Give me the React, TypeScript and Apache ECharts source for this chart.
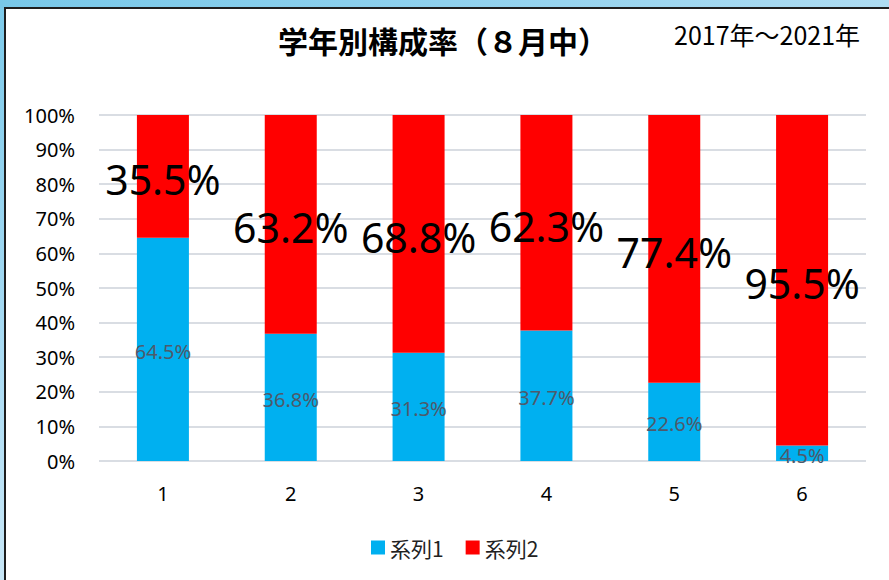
import React, { useEffect, useRef } from "react";
import * as echarts from "echarts";

const categories = ["1", "2", "3", "4", "5", "6"];
const series1Values = [64.5, 36.8, 31.3, 37.7, 22.6, 4.5];
const series2Values = [35.5, 63.2, 68.8, 62.3, 77.4, 95.5];
const seriesNames = ["系列1", "系列2"];
const titleText = "学年別構成率（８月中）";
const subtitleText = "2017年～2021年";

export default function App() {
  const ref = useRef<HTMLDivElement>(null);

  useEffect(() => {
    document.body.style.margin = "0";
    if (!ref.current) return;
    const chart = echarts.init(ref.current, null, { renderer: "svg" });
    const fmt = (p: any) => Number(p.value).toFixed(1) + "%";
    chart.setOption({
      animation: false,
      textStyle: { fontFamily: "'Noto Sans', 'Noto Sans CJK JP', sans-serif" },
      title: {
        text: titleText,
        left: 273,
        top: 20,
        textStyle: {
          fontFamily: "'Noto Sans CJK JP', sans-serif",
          fontSize: 30,
          fontWeight: "bold",
          color: "#000",
        },
      },
      graphic: [
        {
          type: "text",
          left: 674,
          top: 21,
          style: {
            text: subtitleText,
            fontFamily: "'Noto Sans CJK JP', sans-serif",
            fontSize: 25,
            fill: "#000",
          },
        },
      ],
      legend: {
        left: 366,
        top: 532,
        itemWidth: 14,
        itemHeight: 14,
        itemGap: 22,
        icon: "rect",
        textStyle: {
          fontFamily: "'Noto Sans CJK JP', sans-serif",
          fontSize: 21,
          color: "#222",
        },
        data: seriesNames,
      },
      grid: { left: 99, right: 23, top: 115, bottom: 119, containLabel: false },
      xAxis: {
        type: "category",
        data: categories,
        axisLine: { show: false },
        axisTick: { show: false },
        axisLabel: { color: "#000", fontSize: 20, margin: 22 },
      },
      yAxis: {
        type: "value",
        min: 0,
        max: 100,
        interval: 10,
        axisLine: { show: false },
        axisTick: { show: false },
        axisLabel: { color: "#000", fontSize: 20, margin: 24, formatter: "{value}%" },
        splitLine: { lineStyle: { color: "#D9DDE3", width: 2 } },
      },
      series: [
        {
          name: seriesNames[0],
          type: "bar",
          stack: "total",
          barWidth: 52,
          data: series1Values,
          itemStyle: { color: "#00B0F0" },
          label: {
            show: true,
            position: "inside",
            offset: [0, 2],
            formatter: fmt,
            color: "#4E5A6B",
            fontSize: 20,
          },
        },
        {
          name: seriesNames[1],
          type: "bar",
          stack: "total",
          barWidth: 52,
          data: series2Values,
          itemStyle: { color: "#FF0000" },
          label: {
            show: true,
            position: "inside",
            offset: [0, 3],
            formatter: fmt,
            color: "#000",
            fontSize: 41,
          },
        },
      ],
    });
    return () => chart.dispose();
  }, []);

  return (
    <div
      style={{
        position: "fixed",
        left: 0,
        top: 0,
        width: 889,
        height: 580,
        overflow: "hidden",
        background: "linear-gradient(180deg, #7CCAEA 0%, #A9DBF3 60%, #C8E7F7 100%)",
      }}
    >
      <div
        style={{
          position: "absolute",
          left: 0,
          top: 0,
          width: 889,
          height: 8,
          background: "linear-gradient(90deg, #78C8E9 0%, #8FD1EE 50%, #AEDCF2 100%)",
        }}
      />
      <div
        style={{
          position: "absolute",
          left: 4,
          top: 7,
          width: 889,
          height: 580,
          background: "#fff",
          borderLeft: "2px solid #1E1E1E",
          borderTop: "2px solid #1E1E1E",
          boxSizing: "border-box",
        }}
      />
      <div ref={ref} style={{ position: "absolute", left: 0, top: 0, width: 889, height: 580 }} />
    </div>
  );
}
